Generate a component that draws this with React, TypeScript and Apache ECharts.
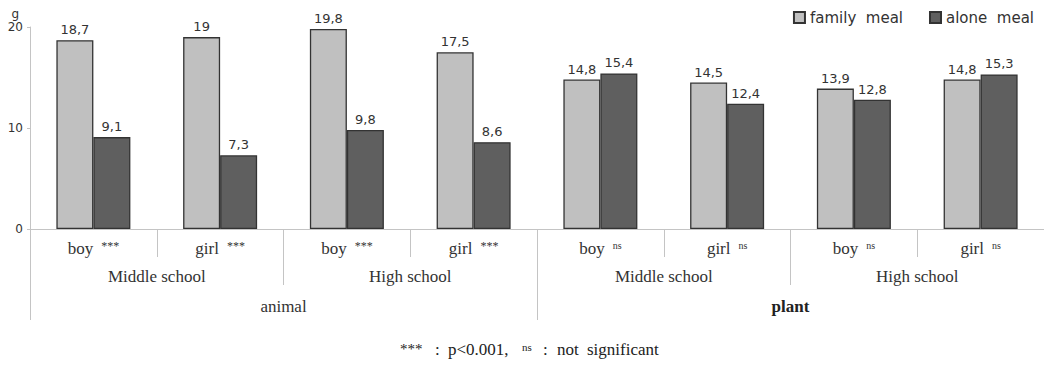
import React, { useEffect, useRef } from "react";
import * as echarts from "echarts";

const categories = ["boy", "girl", "boy", "girl", "boy", "girl", "boy", "girl"];
const significance = ["***", "***", "***", "***", "ns", "ns", "ns", "ns"];
const schools = ["Middle school", "High school", "Middle school", "High school"];
const foodGroups = ["animal", "plant"];
const seriesNames = ["family  meal", "alone  meal"];
const familyMeal = [18.7, 19, 19.8, 17.5, 14.8, 14.5, 13.9, 14.8];
const aloneMeal = [9.1, 7.3, 9.8, 8.6, 15.4, 12.4, 12.8, 15.3];
const yMin = 0;
const yMax = 20;
const yInterval = 10;

const SERIF = "'Liberation Serif', 'Times New Roman', serif";
const SANS = "'DejaVu Sans', sans-serif";
const SEP = "#c4c4c4";

export default function App() {
  const ref = useRef<HTMLDivElement>(null);
  useEffect(() => {
    if (!ref.current) return;
    const chart = echarts.init(ref.current, null, { renderer: "svg" });
    const valueLabel = {
      show: true,
      position: "top",
      distance: 4,
      fontFamily: SANS,
      fontSize: 13,
      color: "#333",
      formatter: (p: any) => String(p.value).replace(".", ","),
    };
    chart.setOption({
      animation: false,
      grid: { left: 30, top: 27, width: 1024, height: 202, containLabel: false },
      legend: {
        data: seriesNames,
        right: 5,
        top: 5,
        icon: "rect",
        itemWidth: 11,
        itemHeight: 11,
        itemGap: 26,
        textStyle: { fontFamily: SANS, fontSize: 15, color: "#333" },
      },
      xAxis: [
        {
          type: "category",
          data: categories,
          position: "bottom",
          axisLine: { show: true, lineStyle: { color: SEP, width: 1 } },
          axisTick: { show: true, interval: 0, length: 28, lineStyle: { color: SEP } },
          axisLabel: {
            interval: 0,
            margin: 11,
            formatter: (v: string, i: number) =>
              significance[i] === "ns" ? `{t|${v}}{n|${significance[i]}}` : `{t|${v}}{s|${significance[i]}}`,
            rich: {
              t: { fontFamily: SERIF, fontSize: 17, color: "#333" },
              s: { fontFamily: SERIF, fontSize: 12, color: "#333", verticalAlign: "top", padding: [0, 0, 4, 8] },
              n: { fontFamily: SERIF, fontSize: 10, color: "#333", verticalAlign: "top", padding: [0, 0, 6, 8] },
            },
          },
        },
        {
          type: "category",
          data: schools,
          position: "bottom",
          axisLine: { show: false },
          axisTick: { show: true, interval: 0, length: 56, lineStyle: { color: SEP } },
          axisLabel: { interval: 0, margin: 39, fontFamily: SERIF, fontSize: 17, color: "#333" },
        },
        {
          type: "category",
          data: foodGroups,
          position: "bottom",
          axisLine: { show: false },
          axisTick: { show: true, interval: 0, length: 91, lineStyle: { color: SEP } },
          axisLabel: {
            interval: 0,
            margin: 69,
            formatter: (v: string) => (v === "plant" ? `{b|${v}}` : `{n|${v}}`),
            rich: {
              n: { fontFamily: SERIF, fontSize: 17, color: "#333" },
              b: { fontFamily: SERIF, fontSize: 17, color: "#222", fontWeight: "bold" },
            },
          },
        },
      ],
      yAxis: {
        type: "value",
        min: yMin,
        max: yMax,
        interval: yInterval,
        name: "g",
        nameLocation: "end",
        nameGap: 7,
        nameTextStyle: { fontFamily: SANS, fontSize: 12, color: "#333", align: "right", padding: [0, 11, 0, 0] },
        axisLine: { show: true, lineStyle: { color: SEP } },
        axisTick: { show: true, length: 3, lineStyle: { color: SEP } },
        axisLabel: { margin: 7, fontFamily: SANS, fontSize: 12, color: "#333" },
        splitLine: { show: false },
      },
      series: [
        {
          name: seriesNames[0],
          type: "bar",
          xAxisIndex: 0,
          data: familyMeal,
          barWidth: 37,
          barGap: "0%",
          itemStyle: { color: "#c0c0c0", borderColor: "#333", borderWidth: 1.3 },
          label: valueLabel,
        },
        {
          name: seriesNames[1],
          type: "bar",
          xAxisIndex: 0,
          data: aloneMeal,
          barWidth: 37,
          barGap: "0%",
          itemStyle: { color: "#5f5f5f", borderColor: "#333", borderWidth: 1.3 },
          label: valueLabel,
        },
      ],
      graphic: [
        {
          type: "text",
          left: 400,
          top: 341,
          style: {
            text: "{a|***}{c|:}{p|p<0.001,}{n|ns}{c2|:}{w|not}{x|significant}",
            fontFamily: SERIF,
            fontSize: 17,
            fill: "#222",
            rich: {
              a: { fontFamily: SERIF, fontSize: 15, fill: "#222", width: 35, verticalAlign: "top" },
              c: { fontFamily: SERIF, fontSize: 17, fill: "#222", width: 13 },
              p: { fontFamily: SERIF, fontSize: 17, fill: "#222", width: 74 },
              n: { fontFamily: SERIF, fontSize: 11, fill: "#222", width: 21, verticalAlign: "top" },
              c2: { fontFamily: SERIF, fontSize: 17, fill: "#222", width: 14 },
              w: { fontFamily: SERIF, fontSize: 17, fill: "#222", width: 30 },
              x: { fontFamily: SERIF, fontSize: 17, fill: "#222" },
            },
          },
        },
      ],
    });
    return () => chart.dispose();
  }, []);
  return (
    <div
      ref={ref}
      style={{ position: "fixed", left: 0, top: 0, width: 1044, height: 378, background: "#fff" }}
    />
  );
}
